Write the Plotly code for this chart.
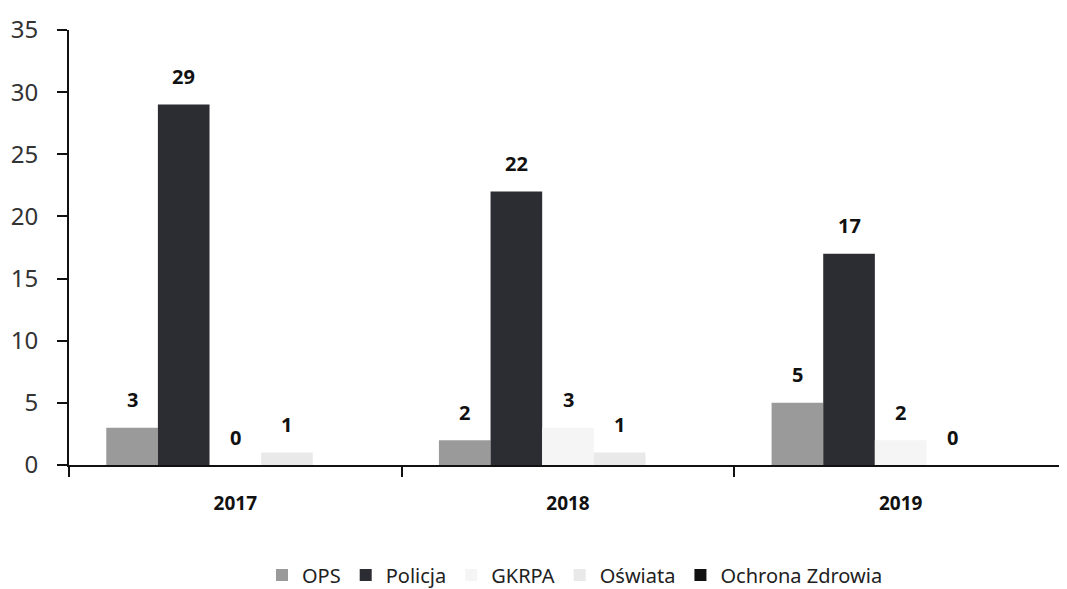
import plotly.graph_objects as go

years = ["2017", "2018", "2019"]
series_names = ["OPS", "Policja", "GKRPA", "Oświata", "Ochrona Zdrowia"]
ops = [3, 2, 5]
policja = [29, 22, 17]
gkrpa = [0, 3, 2]
oswiata = [1, 1, 0]
ochrona_zdrowia = [0, 0, 0]
show_labels = [True, True, True, True, False]
y_ticks = [0, 5, 10, 15, 20, 25, 30, 35]

values = [ops, policja, gkrpa, oswiata, ochrona_zdrowia]
colors = ["#9a9a9a", "#2c2c33", "#f5f5f5", "#e9e9e9", "#111111"]

# page body has an 8px margin, so the figure is sized to fill the rest
W, H = 1059, 581
ML, MR, MT, MB = 61, 0, 22, 124
BARGAP = 0.224
plot_w = W - ML - MR
cat_w = plot_w / len(years)
bar_w = cat_w * (1 - BARGAP) / len(series_names)

fig = go.Figure()
for name, vals, col in zip(series_names, values, colors):
    fig.add_trace(go.Bar(
        name=name, x=years, y=vals,
        marker=dict(color=col, line=dict(width=0)),
    ))

font_family = "Noto Sans, Open Sans, Liberation Sans, sans-serif"
n = len(series_names)
for i, (vals, show) in enumerate(zip(values, show_labels)):
    if not show:
        continue
    for j, v in enumerate(vals):
        # x given as category index on the category axis
        fig.add_annotation(
            x=j, y=v, text=f"<b>{v}</b>", showarrow=False,
            xshift=(i - (n - 1) / 2) * bar_w, yshift=28,
            font=dict(size=20, color="#111111", family=font_family),
        )

fig.update_layout(
    width=W, height=H,
    margin=dict(l=ML, r=MR, t=MT, b=MB, autoexpand=False),
    barmode="group", bargap=BARGAP, bargroupgap=0,
    paper_bgcolor="white", plot_bgcolor="white",
    font=dict(family=font_family, color="#222222"),
    showlegend=True,
    legend=dict(
        orientation="h", x=0.507, xanchor="center",
        y=-0.253, yanchor="middle",
        font=dict(size=20, color="#222222"),
        itemwidth=30, traceorder="normal",
    ),
)
fig.update_yaxes(
    range=[0, 35], tickvals=y_ticks, showgrid=False, zeroline=False,
    automargin=False,
    showline=True, linecolor="#111111", linewidth=2,
    ticks="outside", ticklen=10, tickcolor="#111111", tickwidth=2,
    tickfont=dict(size=24, color="#333333"), ticklabelstandoff=14,
)
fig.update_xaxes(
    type="category", categoryorder="array", categoryarray=years,
    range=[-0.5, len(years) - 0.5], automargin=False,
    showline=True, linecolor="#111111", linewidth=2,
    ticks="outside", tickson="boundaries", ticklen=10, tickcolor="#111111", tickwidth=2,
    tickfont=dict(size=19, color="#111111", family=font_family, weight="bold"),
    ticklabelstandoff=20,
)

fig.write_html("out.html")
